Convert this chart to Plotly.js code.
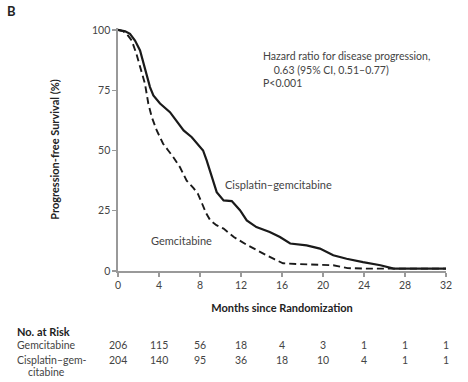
<!DOCTYPE html>
<html>
<head>
<meta charset="utf-8">
<script src="https://cdn.plot.ly/plotly-3.0.1.min.js"></script>
<style>html,body{margin:0;padding:0;background:#fff}#chart{width:468px;height:382px}</style>
</head>
<body>
<div id="chart"></div>
<script>
// Gemcitabine (dashed)
const gemMonths = [0, 0.5, 0.85, 1.34, 1.8, 2.3, 2.63, 2.96, 3.3, 3.78, 4.4, 4.9, 5.4, 6.05, 6.7, 7.35, 7.8, 8.2, 8.6, 9, 9.6, 10.3, 11.3, 12.5, 13.5, 14.5, 15.3, 16.1, 17.4, 19.4, 21, 22.4, 24, 26.9, 32];
const gemSurv   = [100, 99.5, 98.4, 95.6, 90, 83.2, 77.7, 69.4, 63.8, 58.3, 52.8, 50, 47.2, 43, 37.5, 34.5, 32, 28, 24, 21, 19, 17.6, 14.1, 11, 8.6, 6.5, 4.8, 3.2, 2.9, 2.6, 2.4, 1.2, 1, 1, 1];
// Cisplatin–gemcitabine (solid)
const cisMonths = [0, 0.7, 1.17, 1.66, 2.15, 2.63, 3.12, 3.45, 4.1, 5.07, 5.7, 6.4, 7.2, 8.3, 8.65, 9.14, 9.63, 10.3, 11.1, 11.9, 12.56, 13.5, 14.8, 15.8, 16.8, 18.4, 19.7, 21, 22.3, 23.9, 25.6, 26.9, 32];
const cisSurv   = [100, 99.4, 98.4, 95.6, 91.5, 84.5, 76.3, 72.8, 69.5, 65.9, 62.5, 58.3, 55.5, 50, 45.9, 39, 32.7, 29.3, 29, 25.2, 21, 18.2, 16.2, 14.1, 11.4, 10.6, 9.3, 6.5, 5.1, 3.7, 2.4, 1, 1];

const xTicks = [0, 4, 8, 12, 16, 20, 24, 28, 32];
const yTicks = [0, 25, 50, 75, 100];
const riskGem = [206, 115, 56, 18, 4, 3, 1, 1, 1];
const riskCis = [204, 140, 95, 36, 18, 10, 4, 1, 1];

const FONT = 'Lato, "Open Sans", sans-serif';
const TXT = '#444';

const traces = [
  {x: cisMonths, y: cisSurv, mode: 'lines', line: {color: '#1a1a1a', width: 2.2}, hoverinfo: 'skip'},
  {x: gemMonths, y: gemSurv, mode: 'lines', line: {color: '#1a1a1a', width: 1.9, dash: '7px,4px'}, hoverinfo: 'skip'}
];

const ann = [];
const yGemRow = -0.306, yCisRow = -0.367;
xTicks.forEach((t, i) => {
  ann.push({x: t, y: yGemRow, xref: 'x', yref: 'paper', text: String(riskGem[i]), showarrow: false, font: {family: FONT, size: 10.5, color: TXT}, xanchor: 'center', yanchor: 'middle'});
  ann.push({x: t, y: yCisRow, xref: 'x', yref: 'paper', text: String(riskCis[i]), showarrow: false, font: {family: FONT, size: 10.5, color: TXT}, xanchor: 'center', yanchor: 'middle'});
});
const labX = -0.314;
ann.push({x: labX, y: -0.247, xref: 'paper', yref: 'paper', text: '<b>No. at Risk</b>', showarrow: false, font: {family: FONT, size: 11, color: '#222'}, xanchor: 'left', yanchor: 'middle'});
ann.push({x: labX, y: yGemRow, xref: 'paper', yref: 'paper', text: 'Gemcitabine', showarrow: false, font: {family: FONT, size: 10.5, color: TXT}, xanchor: 'left', yanchor: 'middle'});
ann.push({x: labX, y: yCisRow, xref: 'paper', yref: 'paper', text: 'Cisplatin–gem-', showarrow: false, font: {family: FONT, size: 10.5, color: TXT}, xanchor: 'left', yanchor: 'middle'});
ann.push({x: -0.28, y: -0.415, xref: 'paper', yref: 'paper', text: 'citabine', showarrow: false, font: {family: FONT, size: 10.5, color: TXT}, xanchor: 'left', yanchor: 'middle'});

ann.push({x: 0.435, y: 0.918, xref: 'paper', yref: 'paper', text: 'Hazard ratio for disease progression,<br>    0.63 (95% CI, 0.51–0.77)<br>P<0.001', align: 'left', showarrow: false, font: {family: FONT, size: 10.5, color: TXT}, xanchor: 'left', yanchor: 'top'});
ann.push({x: 0.32, y: 0.356, xref: 'paper', yref: 'paper', text: 'Cisplatin–gemcitabine', showarrow: false, font: {family: FONT, size: 11, color: TXT}, xanchor: 'left', yanchor: 'middle'});
ann.push({x: 0.095, y: 0.126, xref: 'paper', yref: 'paper', text: 'Gemcitabine', showarrow: false, font: {family: FONT, size: 11, color: TXT}, xanchor: 'left', yanchor: 'middle'});
ann.push({x: -0.345, y: 1.07, xref: 'paper', yref: 'paper', text: '<b>B</b>', showarrow: false, font: {family: FONT, size: 13, color: '#222'}, xanchor: 'left', yanchor: 'middle'});

const layout = {
  width: 468, height: 382,
  margin: {l: 118, r: 22, t: 27.6, b: 111.3},
  paper_bgcolor: '#fff', plot_bgcolor: '#fff',
  showlegend: false,
  font: {family: FONT, color: TXT},
  xaxis: {
    range: [0, 32], tickvals: xTicks, ticktext: xTicks.map(String),
    showgrid: false, zeroline: false, showline: true, linecolor: '#999', linewidth: 1.6,
    ticks: 'outside', ticklen: 4, tickcolor: '#999', tickwidth: 1.2,
    tickfont: {family: FONT, size: 10.5, color: TXT},
    title: {text: '<b>Months since Randomization</b>', font: {family: FONT, size: 11, color: '#222'}, standoff: 14}
  },
  yaxis: {
    range: [0, 100.8], tickvals: yTicks, ticktext: yTicks.map(String),
    showgrid: false, zeroline: false, showline: true, linecolor: '#999', linewidth: 1.6,
    ticks: 'outside', ticklen: 4, tickcolor: '#999', tickwidth: 1.2,
    tickfont: {family: FONT, size: 10.5, color: TXT},
    title: {text: '<b>Progression-free Survival (%)</b>', font: {family: FONT, size: 11, color: '#222'}, standoff: 30}
  },
  annotations: ann
};

Plotly.newPlot('chart', traces, layout, {staticPlot: true, displayModeBar: false});
</script>
</body>
</html>
